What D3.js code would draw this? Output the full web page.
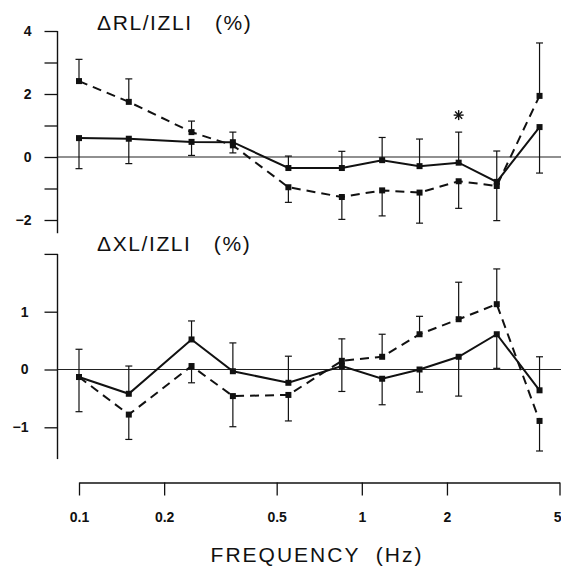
<!DOCTYPE html>
<html>
<head>
<meta charset="utf-8">
<script src="https://cdn.jsdelivr.net/npm/d3@7"></script>
<style>
  body { margin: 0; background: #fff; }
  svg { display: block; font-family: "Liberation Sans", Arial, sans-serif; }
</style>
</head>
<body>
<svg id="chart" width="561" height="570"></svg>
<script>
// Stimulation frequencies (Hz)
const frequencies = [0.1, 0.15, 0.25, 0.35, 0.55, 0.85, 1.18, 1.6, 2.2, 3.0, 4.25];
const freqTicks = [0.1, 0.2, 0.5, 1, 2, 5];

// ΔRL/IZLI (%) — mean and SD for the two conditions
const rlSolid    = [0.60, 0.58, 0.48, 0.47, -0.35, -0.35, -0.10, -0.29, -0.18, -0.79, 0.95];
const rlSolidSD  = [0.97, 0.79, 0.43, 0.32, 0.38, 0.53, 0.72, 0.86, 0.97, 0.98, 1.46];
const rlDashed   = [2.41, 1.75, 0.79, 0.37, -0.96, -1.27, -1.06, -1.13, -0.77, -0.92, 1.94];
const rlDashedSD = [0.69, 0.73, 0.35, 0.24, 0.48, 0.71, 0.81, 0.97, 0.86, 1.10, 1.68];

// ΔXL/IZLI (%) — mean and SD for the two conditions
const xlSolid    = [-0.13, -0.42, 0.52, -0.03, -0.23, 0.06, -0.16, 0.00, 0.22, 0.61, -0.36];
const xlSolidSD  = [0.48, 0.48, 0.32, 0.49, 0.46, 0.44, 0.45, 0.39, 0.68, 0.59, 0.58];
const xlDashed   = [-0.13, -0.78, 0.06, -0.46, -0.44, 0.15, 0.22, 0.61, 0.87, 1.13, -0.89];
const xlDashedSD = [0.60, 0.43, 0.29, 0.53, 0.45, 0.38, 0.39, 0.31, 0.64, 0.61, 0.52];

// Significant difference marker (frequency index)
const rlSignificant = [8];

// Axis ticks and labels
const rlTicks = [-2, -1, 0, 1, 2, 3, 4];
const rlTickLabels = [-2, 0, 2, 4];
const rlAxisExtent = [-2.42, 4];
const xlTicks = [-1, 0, 1, 2];
const xlTickLabels = [-1, 0, 1];
const xlAxisExtent = [-1.55, 2];

const svg = d3.select("#chart");

const x = d3.scaleLog().domain([0.1, 5]).range([79, 559.5]);
const yRL = d3.scaleLinear().domain([-2, 4]).range([220, 31]);
const yXL = d3.scaleLinear().domain([-1, 1]).range([427.3, 311.7]);
const axisX = 57.5;

const fmtTick = d => (d < 0 ? "\u2212" + Math.abs(d) : String(d));

function drawPanel(y, ticks, tickLabels, extent, solid, solidSD, dashed, dashedSD, pad, title, titleY) {
  const g = svg.append("g");

  // vertical axis
  const ax = g.append("g")
    .attr("transform", `translate(${axisX},0)`)
    .call(d3.axisLeft(y).tickValues(ticks).tickSize(13).tickPadding(pad)
      .tickFormat(d => tickLabels.includes(d) ? fmtTick(d) : ""));
  ax.select(".domain").remove();
  ax.selectAll(".tick line").attr("stroke", "#111").attr("stroke-width", 1.3);
  ax.selectAll(".tick text").attr("fill", "#111").style("font-size", "14px")
    .style("font-weight", "bold").style("font-family", "'Liberation Sans', Arial, sans-serif");
  g.append("line")
    .attr("x1", axisX).attr("x2", axisX)
    .attr("y1", y(extent[1])).attr("y2", y(extent[0]))
    .attr("stroke", "#111").attr("stroke-width", 1.4);

  // zero reference line
  g.append("line")
    .attr("x1", axisX).attr("x2", 561)
    .attr("y1", y(0)).attr("y2", y(0))
    .attr("stroke", "#222").attr("stroke-width", 1.2);

  // title
  g.append("text")
    .attr("x", 97).attr("y", titleY)
    .attr("fill", "#111")
    .style("font-size", "21px")
    .style("letter-spacing", "1.6px")
    .style("white-space", "pre")
    .text(title);

  const series = [
    { v: solid, sd: solidSD, other: dashed, dash: null, up: (a, b) => a >= b },
    { v: dashed, sd: dashedSD, other: solid, dash: "9,6", up: (a, b) => a > b }
  ];

  // one-sided error bars pointing away from the other condition
  series.forEach(s => {
    const bars = s.v.map((m, i) => {
      const dir = s.up(m, s.other[i]) ? 1 : -1;
      return { f: frequencies[i], m, tip: m + dir * s.sd[i] };
    });
    const eb = g.append("g").attr("stroke", "#111").attr("stroke-width", 1.2);
    eb.selectAll("line.stem").data(bars).join("line")
      .attr("class", "stem")
      .attr("x1", d => x(d.f)).attr("x2", d => x(d.f))
      .attr("y1", d => y(d.m)).attr("y2", d => y(d.tip));
    eb.selectAll("line.cap").data(bars).join("line")
      .attr("class", "cap")
      .attr("x1", d => x(d.f) - 3.5).attr("x2", d => x(d.f) + 3.5)
      .attr("y1", d => y(d.tip)).attr("y2", d => y(d.tip));
  });

  // mean curves
  const line = d3.line().x((d, i) => x(frequencies[i])).y(d => y(d));
  series.forEach(s => {
    g.append("path")
      .datum(s.v)
      .attr("d", line)
      .attr("fill", "none")
      .attr("stroke", "#111")
      .attr("stroke-width", 2)
      .attr("stroke-dasharray", s.dash);
    g.selectAll(null).data(s.v).join("rect")
      .attr("x", (d, i) => x(frequencies[i]) - 3)
      .attr("y", d => y(d) - 3)
      .attr("width", 6).attr("height", 6)
      .attr("fill", "#111");
  });

  return g;
}

drawPanel(yRL, rlTicks, rlTickLabels, rlAxisExtent, rlSolid, rlSolidSD, rlDashed, rlDashedSD, 13,
  "\u0394RL/IZLI   (%)", 30);
drawPanel(yXL, xlTicks, xlTickLabels, xlAxisExtent, xlSolid, xlSolidSD, xlDashed, xlDashedSD, 16,
  "\u0394XL/IZLI   (%)", 251);

// asterisk above the upper error bar at significant frequencies
rlSignificant.forEach(i => {
  const top = Math.max(rlSolid[i] + rlSolidSD[i], rlDashed[i] + rlDashedSD[i]);
  const cx = x(frequencies[i]);
  const cy = yRL(top) - 17;
  const star = svg.append("g").attr("stroke", "#111").attr("stroke-width", 1.4);
  [0, 45, 90, 135].forEach(a => {
    const r = a * Math.PI / 180;
    star.append("line")
      .attr("x1", cx - 5 * Math.cos(r)).attr("y1", cy - 5 * Math.sin(r))
      .attr("x2", cx + 5 * Math.cos(r)).attr("y2", cy + 5 * Math.sin(r));
  });
});

// frequency axis (log scale)
const xa = svg.append("g")
  .attr("transform", "translate(0,482.5)")
  .call(d3.axisBottom(x).tickValues(freqTicks).tickSize(13).tickSizeOuter(0).tickPadding(17)
    .tickFormat(d3.format("~g")));
xa.select(".domain").attr("stroke", "#111").attr("stroke-width", 1.4);
xa.selectAll(".tick line").attr("stroke", "#111").attr("stroke-width", 1.3);
xa.selectAll(".tick text").attr("fill", "#111").style("font-size", "14px")
  .style("font-weight", "bold").style("font-family", "'Liberation Sans', Arial, sans-serif");
// the last label sits at the right edge: align its end to the tick so it stays visible
xa.selectAll(".tick text").filter(d => d === freqTicks[freqTicks.length - 1])
  .attr("text-anchor", "end").attr("x", 1.5);

svg.append("text")
  .attr("x", 317).attr("y", 562)
  .attr("text-anchor", "middle")
  .attr("fill", "#111")
  .style("font-size", "21px")
  .style("letter-spacing", "2px")
  .style("white-space", "pre")
  .text("FREQUENCY  (Hz)");
</script>
</body>
</html>
